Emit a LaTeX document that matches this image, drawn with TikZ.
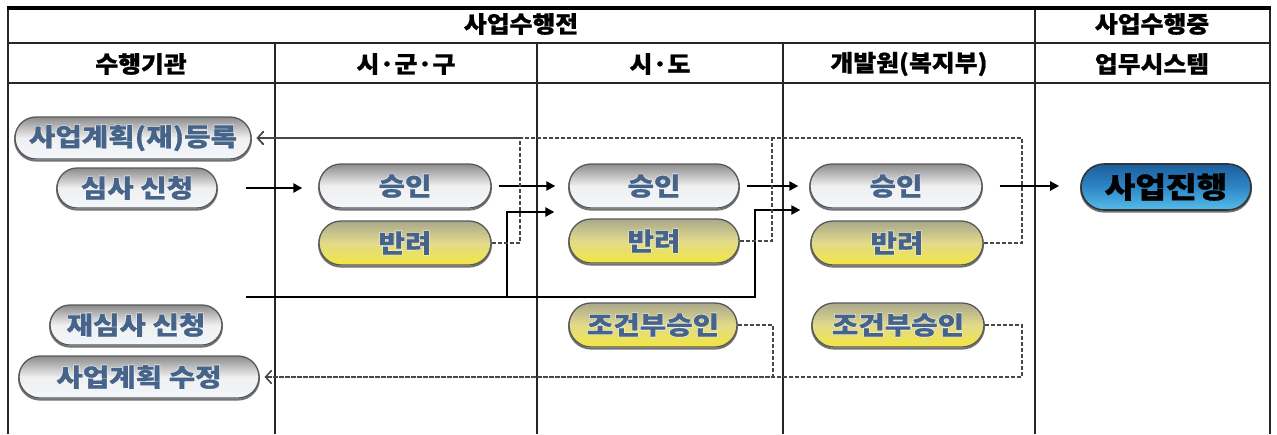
\documentclass[tikz,border=0pt]{standalone}
\usepackage{fontspec}
\newfontfamily\kr{Noto Sans CJK KR}[FakeStretch=1.15,FakeBold=1.2,BoldFeatures={FakeBold=1.2}]
\newfontfamily\krh{Noto Sans CJK KR}[FakeStretch=1.08,FakeBold=0.8,BoldFeatures={FakeBold=0.8}]
\newfontfamily\krglow{Noto Sans CJK KR}[FakeStretch=1.15,FakeBold=5,BoldFeatures={FakeBold=5}]
\usetikzlibrary{shapes.misc,arrows.meta,calc}
\definecolor{txtblue}{HTML}{46648A}
\definecolor{ylwtop}{HTML}{A9A88C}
\definecolor{ylwmid}{HTML}{E2DA8A}
\definecolor{ylwbot}{HTML}{F3E640}
\definecolor{bluetop}{HTML}{1C5E9C}
\definecolor{bluemid}{HTML}{2F86C6}
\definecolor{bluebot}{HTML}{55BDEA}
\definecolor{silvbot}{HTML}{F2F6FB}
\newcommand\gl[1]{\makebox[0pt][c]{\krglow\bfseries\color{white}#1}\makebox[0pt][c]{#1}}
\tikzset{
  grid/.style={line width=1.2pt, black!85},
  hdr/.style={font={\krh\bfseries\fontsize{23pt}{25pt}\selectfont}, inner sep=0pt},
  pill/.style={rounded rectangle, draw=black!65, line width=1.3pt, minimum height=44pt,
     inner sep=0pt, text=txtblue, font={\kr\bfseries\fontsize{25pt}{27pt}\selectfont},
     preaction={draw=black!55, line width=2pt, transform canvas={yshift=-1.6pt}}},
  silver/.style={pill, top color=black!45, bottom color=silvbot, middle color=black!6},
  yellow/.style={pill, top color=ylwtop, bottom color=ylwbot, middle color=ylwmid},
  bluepill/.style={pill, draw=black!80, line width=1.6pt, minimum height=46pt, text=black,
     top color=bluetop, bottom color=bluebot, middle color=bluemid,
     font={\kr\bfseries\fontsize{29pt}{31pt}\selectfont}},
  flow/.style={line width=2.6pt, line join=miter, -{Triangle[length=9pt,width=9pt]}},
  fb/.style={draw=black!72, line width=1.3pt, dash pattern=on 4pt off 2pt,
     -{Straight Barb[length=6pt,width=13pt]}, shorten >=5pt}
}
\begin{document}
\begin{tikzpicture}[x=1pt,y=-1pt]
\useasboundingbox (0,0) rectangle (1277,434);
\fill[white] (0,0) rectangle (1277,434);
% table
\draw[grid] (8,434) -- (8,8);
\draw[grid] (1270,434) -- (1270,8);
\draw[grid] (8,43) -- (1270,43);
\draw[grid] (8,83) -- (1270,83);
\draw[grid] (275,43) -- (275,434);
\draw[grid] (537,43) -- (537,434);
\draw[grid] (783,43) -- (783,434);
\draw[grid] (1035,8) -- (1035,434);
\draw[line width=3.5pt] (7,8) -- (1271,8);
% headers
\node[hdr] (h1) at (521,24) {사업수행전};
\node[hdr] (h2) at (1152,24) {사업수행중};
\node[hdr] (k1) at (141,64) {수행기관};
\node[hdr] (k2) at (406,64) {시·군·구};
\node[hdr] (k3) at (660,64) {시·도};
\node[hdr] (k4) at (909,64) {개발원(복지부)};
\node[hdr] (k5) at (1152,64) {업무시스템};
% left column
\node[silver, minimum width=236pt, minimum height=42pt] (reg) at (133,138) {\gl{사업계획(재)등록}};
\node[silver, minimum width=160pt, minimum height=40pt] (req) at (137,188) {\gl{심사 신청}};
\node[silver, minimum width=172pt, minimum height=40pt] (rereq) at (136,325) {\gl{재심사 신청}};
\node[silver, minimum width=240pt, minimum height=42pt] (mod) at (139,377) {\gl{사업계획 수정}};
% sigungu
\node[silver, minimum width=172pt] (a1) at (405,186) {\gl{승인}};
\node[yellow, minimum width=172pt] (r1) at (405,243) {\gl{반려}};
% sido
\node[silver, minimum width=170pt] (a2) at (654,186) {\gl{승인}};
\node[yellow, minimum width=170pt] (r2) at (654,241) {\gl{반려}};
\node[yellow, minimum width=168pt] (c2) at (653,325) {\gl{조건부승인}};
% center
\node[silver, minimum width=172pt] (a3) at (896,186) {\gl{승인}};
\node[yellow, minimum width=172pt] (r3) at (897,243) {\gl{반려}};
\node[yellow, minimum width=172pt] (c3) at (898,325) {\gl{조건부승인}};
% system
\node[bluepill, minimum width=170pt] (go) at (1166,187) {사업진행};
% main flow
\draw[flow] ($(req.east)+(28,0)$) -- ($(req.east -| a1.west)+(-16,0)$);
\draw[flow] ($(a1.east)+(7,0)$) -- ($(a2.west)+(-13,0)$);
\draw[flow] ($(a2.east)+(7,0)$) -- ($(a3.west)+(-11,0)$);
\draw[flow] ($(a3.east)+(17,0)$) -- ($(go.west)+(-21,-1)$);
% resubmission
\coordinate (rs) at (246,297);
\draw[flow] (rs) -| (755,210) -- ($(a3.west)+(-9,24)$);
\draw[flow] (507,297) -- (507,212) -- ($(a2.west)+(-14,26)$);
% feedback (reject)
\draw[fb] (r1.east) -- (520,243) |- (reg.east);
\draw[fb] (r2.east) -- (772,241) |- (reg.east);
\draw[fb] (r3.east) -- (1022,243) |- (reg.east);
% feedback (conditional)
\draw[fb] (c2.east) -- (773,325) |- (mod.east);
\draw[fb] (c3.east) -- (1022,325) |- (mod.east);
\end{tikzpicture}
\end{document}
